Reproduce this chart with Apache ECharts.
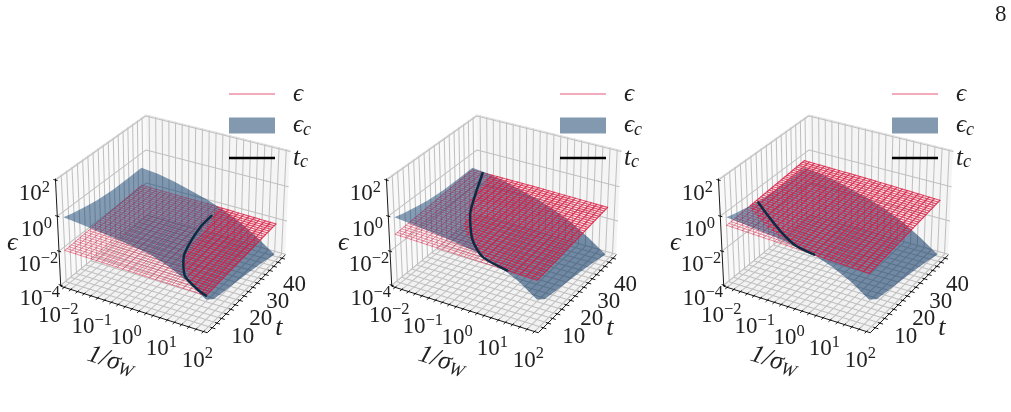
<!DOCTYPE html>
<html><head><meta charset="utf-8">
<style>html,body{margin:0;padding:0;background:#fff}#c{width:1011px;height:412px}</style>
<script src="https://cdn.jsdelivr.net/npm/echarts@6/dist/echarts.min.js"></script>
</head><body><div id="c"></div>
<script>
// ---- data (log10 values) ----
const xTicksLog = [-2,-1,0,1,2];
const xTickLabels = ['−2','−1','0','1','2'];
const tTicks = [10,20,30,40];
const tTickLabels = ['10','20','30','40'];
const zTicksLog = [-4,-2,0,2];
const zTickLabels = ['−4','−2','0','2'];
const legendNames = ['ϵ','ϵc','tc'];

// critical surface eps_c : rows = t, columns = log10(1/sigma_W)
const surfLogX = [-2,-1.5,-1,-0.5,0,0.5,1,1.5,2];
const surfT = [1,5,11,17,25,33,40];
const surfRow1  = [-0.1,-0.2,-0.32,-0.45,-0.6,-0.78,-1.15,-1.65,-2.35];
const surfRow5  = [-0.25,-0.39,-0.58,-0.78,-1.06,-1.36,-1.72,-2.24,-2.76];
const surfRow11 = [-0.43,-0.65,-0.89,-1.06,-1.3,-1.71,-2.12,-2.53,-2.9];
const surfRow17 = [-0.57,-0.73,-0.92,-1.15,-1.46,-1.82,-2.23,-2.64,-3.03];
const surfRow25 = [-0.66,-0.79,-0.97,-1.21,-1.48,-1.79,-2.21,-2.67,-3.2];
const surfRow33 = [-0.66,-0.75,-0.96,-1.21,-1.47,-1.81,-2.23,-2.76,-3.42];
const surfRow40 = [-0.65,-0.75,-0.94,-1.22,-1.5,-1.87,-2.34,-2.95,-3.65];
const surfZ = [surfRow1,surfRow5,surfRow11,surfRow17,surfRow25,surfRow33,surfRow40];

// eps surface per panel : rows t = 1,20.5,40 ; columns log10(1/sigma_W) = -2,0,2
const epsLogX = [-2,0,2];
const epsT = [1,20.5,40];
const epsA = [[-2.0,-2.07,-2.13],[-1.85,-1.9,-1.98],[-1.7,-1.74,-1.83]];
const epsB = [[-1.07,-1.17,-1.27],[-0.92,-0.97,-1.07],[-0.77,-0.79,-0.86]];
const epsC = [[-0.56,-0.72,-0.89],[-0.39,-0.51,-0.67],[-0.22,-0.31,-0.45]];

// t_c curves : log10(1/sigma_W), t
const tcAx = [0.385,0.40,0.54,0.71,1.16,1.72,2];
const tcAt = [35,28.4,20,13.7,6,2.2,1];
const tcBx = [-1.67,-1.26,-0.88,-0.22,0.39,1.19];
const tcBt = [39.7,28.5,19.2,8.8,3.2,1];
const tcCx = [-1.91,-1.35,-0.7,-0.07,0.5];
const tcCt = [14.7,10.3,5.6,2.05,1];

const panels = [
  {eps:epsA, tcx:tcAx, tct:tcAt, dx:0, legendLeft:229},
  {eps:epsB, tcx:tcBx, tct:tcBt, dx:331, legendLeft:560},
  {eps:epsC, tcx:tcCx, tct:tcCt, dx:663, legendLeft:892}
];

// ---- style ----
const FONT = '"Liberation Serif","DejaVu Serif",serif';
const TXT = '#222';
const GRID = '#c0c0c0';
const PINK_BELOW = 'rgba(220,20,60,0.32)';
const PINK_THROUGH = 'rgba(220,20,60,0.2)';
const PINK_ABOVE = 'rgba(220,20,60,0.72)';
const TCCOL = '#0d2b42';

// ---- matplotlib default 3D camera (elev 30, azim -60, dist 10, box 4:4:3) ----
const E = 30*Math.PI/180, A = -60*Math.PI/180, D = 10;
const w = [Math.cos(E)*Math.cos(A), Math.cos(E)*Math.sin(A), Math.sin(E)];
const u = [-Math.sin(A), Math.cos(A), 0];
const v = [w[1]*u[2]-w[2]*u[1], w[2]*u[0]-w[0]*u[2], w[0]*u[1]-w[1]*u[0]];
const k = 1.8294640721620434*25/24/Math.sqrt(41);
const box = [4*k,4*k,3*k];
function project(X,T,Z){
  const d = [(X-0.5)*box[0],(T-0.5)*box[1],(Z-0.5)*box[2]];
  const dot = a=>a[0]*d[0]+a[1]*d[1]+a[2]*d[2];
  const f = D/(D-dot(w));
  return [dot(u)*f, dot(v)*f];
}
const PAD = 0.025;
const paneX = lx => PAD+(1-2*PAD)*(lx+2)/4;
const paneT = t => PAD+0.875*(t-1)/39;
const paneZ = z => 0.01+0.98*(z+4)/6;

function lookup(xs,ts,table,lx,t){
  let i=0; while(i<xs.length-2 && lx>xs[i+1]) i++;
  let j=0; while(j<ts.length-2 && t>ts[j+1]) j++;
  const a=(lx-xs[i])/(xs[i+1]-xs[i]), b=(t-ts[j])/(ts[j+1]-ts[j]);
  return (table[j][i]*(1-a)+table[j][i+1]*a)*(1-b)+(table[j+1][i]*(1-a)+table[j+1][i+1]*a)*b;
}
const surfAt=(lx,t)=>lookup(surfLogX,surfT,surfZ,lx,t);

const line=(pts,stroke,lw,extra)=>({type:'polyline',silent:true,shape:Object.assign({points:pts},extra||{}),
  style:{stroke,lineWidth:lw,fill:null,lineCap:'round',lineJoin:'round'}});

function richText(api,p,ox,oy,text,rich,rot){
  const c=api.coord(p);
  return {type:'text',silent:true,x:c[0]+ox,y:c[1]+oy,rotation:rot||0,
    style:{text,rich,x:0,y:0,align:'center',verticalAlign:'middle',fill:TXT,fontFamily:FONT,fontSize:23}};
}
const powRich={b:{fontSize:23,fontFamily:FONT,fill:TXT},s:{fontSize:16.5,fontFamily:FONT,fill:TXT,padding:[0,0,13,0]}};

function wallsItem(params,api){
  const P=(x,t,z)=>api.coord(project(x,t,z));
  const ch=[];
  const poly=(pts,fill)=>ch.push({type:'polygon',silent:true,shape:{points:pts},style:{fill,stroke:null}});
  poly([P(0,0,0),P(1,0,0),P(1,1,0),P(0,1,0)],'rgba(230,230,230,0.5)');
  poly([P(0,0,0),P(0,1,0),P(0,1,1),P(0,0,1)],'rgba(243,243,243,0.5)');
  poly([P(0,1,0),P(1,1,0),P(1,1,1),P(0,1,1)],'rgba(236,236,236,0.5)');
  for(let lx=-2;lx<=2.001;lx+=0.2){
    const x=paneX(lx);
    ch.push(line([P(x,0,0),P(x,1,0),P(x,1,1)],GRID,1.05));
  }
  for(let t=2.5;t<=42.5;t+=2.5){
    const y=paneT(t);
    ch.push(line([P(1,y,0),P(0,y,0),P(0,y,1)],GRID,1.05));
  }
  zTicksLog.forEach(z=>{const q=paneZ(z);ch.push(line([P(0,0,q),P(0,1,q),P(1,1,q)],GRID,1.05));});
  ch.push(line([P(0,0,1),P(0,1,1),P(1,1,1)],'#d8d8d8',0.8));
  return {type:'group',children:ch};
}
function axesItem(params,api){
  const P=(x,t,z)=>api.coord(project(x,t,z));
  const ch=[];
  ch.push(line([P(0,0,1),P(0,0,0),P(1,0,0),P(1,1,0)],'#000',0.9));
  for(let lx=-2;lx<=2.001;lx+=0.2){const x=paneX(lx);ch.push(line([P(x,-0.018,0),P(x,0.01,0)],'#000',0.9));}
  for(let t=2.5;t<=42.5;t+=2.5){const y=paneT(t);ch.push(line([P(1.018,y,0),P(0.99,y,0)],'#000',0.9));}
  zTicksLog.forEach(z=>{const q=paneZ(z);ch.push(line([P(-0.012,0,q),P(0.012,0,q)],'#000',0.9));});
  xTicksLog.forEach((lx,i)=>ch.push(richText(api,project(paneX(lx),0,0),-6,29,`{b|10}{s|${xTickLabels[i]}}`,powRich)));
  tTicks.forEach((t,i)=>ch.push(richText(api,project(1,paneT(t),0),16.5,23,`{b|${tTickLabels[i]}}`,powRich)));
  zTicksLog.forEach((z,i)=>ch.push(richText(api,project(0,0,paneZ(z)),-21,14,`{b|10}{s|${zTickLabels[i]}}`,powRich)));
  const mi={i:{fontSize:26,fontStyle:'italic',fontFamily:FONT,fill:TXT},
            u:{fontSize:18,fontStyle:'italic',fontFamily:FONT,fill:TXT,padding:[10,0,0,0]}};
  ch.push(richText(api,project(0.5,0,0),-21,52,'{i|1/σ}{u|W}',mi,-0.31));
  ch.push(richText(api,project(1,0.5,0),31,36,'{i|t}',mi));
  ch.push(richText(api,project(0,0,0.5),-46,9,'{i|ϵ}',mi));
  return {type:'group',children:ch};
}
function wireItem(pn,above,col,lw){
  return function(params,api){
    const P=(lx,t)=>api.coord(project(paneX(lx),paneT(t),paneZ(lookup(epsLogX,epsT,pn.eps,lx,t))));
    const ch=[];
    const NX=26,NT=38;
    const isAbove=(lx,t)=>lookup(epsLogX,epsT,pn.eps,lx,t)>surfAt(lx,t);
    function run(fx,ft,n){
      let cur=null;
      for(let s=0;s<n;s++){
        const a=s/n,b=(s+1)/n,ok=isAbove(fx((a+b)/2),ft((a+b)/2))===above;
        if(ok){ if(!cur) cur=[P(fx(a),ft(a))]; cur.push(P(fx(b),ft(b))); }
        else if(cur){ ch.push(line(cur,col,lw)); cur=null; }
      }
      if(cur) ch.push(line(cur,col,lw));
    }
    for(let i=0;i<=NX;i++){const lx=-2+4*i/NX;run(()=>lx,s=>1+39*s,NT*2);}
    for(let j=0;j<=NT;j++){const t=1+39*j/NT;run(s=>-2+4*s,()=>t,NX*2);}
    return {type:'group',children:ch};
  };
}
function surfItem(params,api){
  const P=(i,j)=>api.coord(project(paneX(surfLogX[i]),paneT(surfT[j]),paneZ(surfZ[j][i])));
  const nx=surfLogX.length,nt=surfT.length,pts=[];
  for(let i=0;i<nx;i++)pts.push(P(i,0));
  for(let j=1;j<nt;j++)pts.push(P(nx-1,j));
  for(let i=nx-2;i>=0;i--)pts.push(P(i,nt-1));
  for(let j=nt-2;j>0;j--)pts.push(P(0,j));
  return {type:'polygon',silent:true,shape:{points:pts},
    style:{fill:{type:'linear',x:0,y:0,x2:0.6,y2:1,colorStops:[
      {offset:0,color:'rgba(5,60,110,0.46)'},{offset:1,color:'rgba(5,48,97,0.54)'}]},stroke:null}};
}
function tcItem(pn){
  return function(params,api){
    const pts=pn.tcx.map((lx,i)=>api.coord(project(paneX(lx),paneT(pn.tct[i]),paneZ(lookup(epsLogX,epsT,pn.eps,lx,pn.tct[i])))));
    return line(pts,TCCOL,2.5,{smooth:0.25});
  };
}

const grids=[],xAxes=[],yAxes=[],series=[],legends=[];
const lineIcon=(a,b)=>`path://M0 0L0 0M46 16L46 16M0 ${a}L46 ${a}L46 ${b}L0 ${b}Z`;
panels.forEach((pn,i)=>{
  grids.push({left:5.8+pn.dx,top:54.2,width:338.4,height:328.8,show:false});
  xAxes.push({type:'value',gridIndex:i,min:-1.2,max:1.2,show:false});
  yAxes.push({type:'value',gridIndex:i,min:-1.2,max:1.2,show:false});
  const add=(name,renderItem)=>series.push({type:'custom',name,xAxisIndex:i,yAxisIndex:i,coordinateSystem:'cartesian2d',
    silent:true,animation:false,clip:false,data:[[0,0]],renderItem});
  add('walls',wallsItem);
  add('eps below',wireItem(pn,false,PINK_BELOW,1));
  add(legendNames[1],surfItem);
  add('eps through',wireItem(pn,false,PINK_THROUGH,1));
  add(legendNames[0],wireItem(pn,true,PINK_ABOVE,1.2));
  add(legendNames[2],tcItem(pn));
  add('axes',axesItem);
  legends.push({left:pn.legendLeft,top:81.5,padding:0,orient:'vertical',itemWidth:46,itemHeight:16,itemGap:6.5,selectedMode:false,
    data:[
      {name:legendNames[0],icon:lineIcon(7.2,8.8),itemStyle:{color:'#ef8fa5',opacity:1}},
      {name:legendNames[1],icon:'rect',itemStyle:{color:'#8299b0',opacity:1}},
      {name:legendNames[2],icon:lineIcon(6.75,9.25),itemStyle:{color:'#000',opacity:1}}
    ],
    formatter:n=>n==='ϵ'?'{i|ϵ}':n==='ϵc'?'{i|ϵ}{u|c}':'{i|t}{u|c}',
    textStyle:{padding:[0,0,0,13],rich:{
      i:{fontSize:25,fontStyle:'italic',fontFamily:FONT,color:TXT},
      u:{fontSize:18,fontStyle:'italic',fontFamily:FONT,color:TXT,padding:[9,0,0,0]}}}
  });
});
const chart=echarts.init(document.getElementById('c'),null,{renderer:'canvas'});
chart.setOption({animation:false,backgroundColor:'#fff',
  title:{text:'8',left:990,top:-2,textStyle:{fontFamily:FONT,fontWeight:'normal',fontSize:23,color:TXT}},
  grid:grids,xAxis:xAxes,yAxis:yAxes,legend:legends,series});
</script></body></html>
